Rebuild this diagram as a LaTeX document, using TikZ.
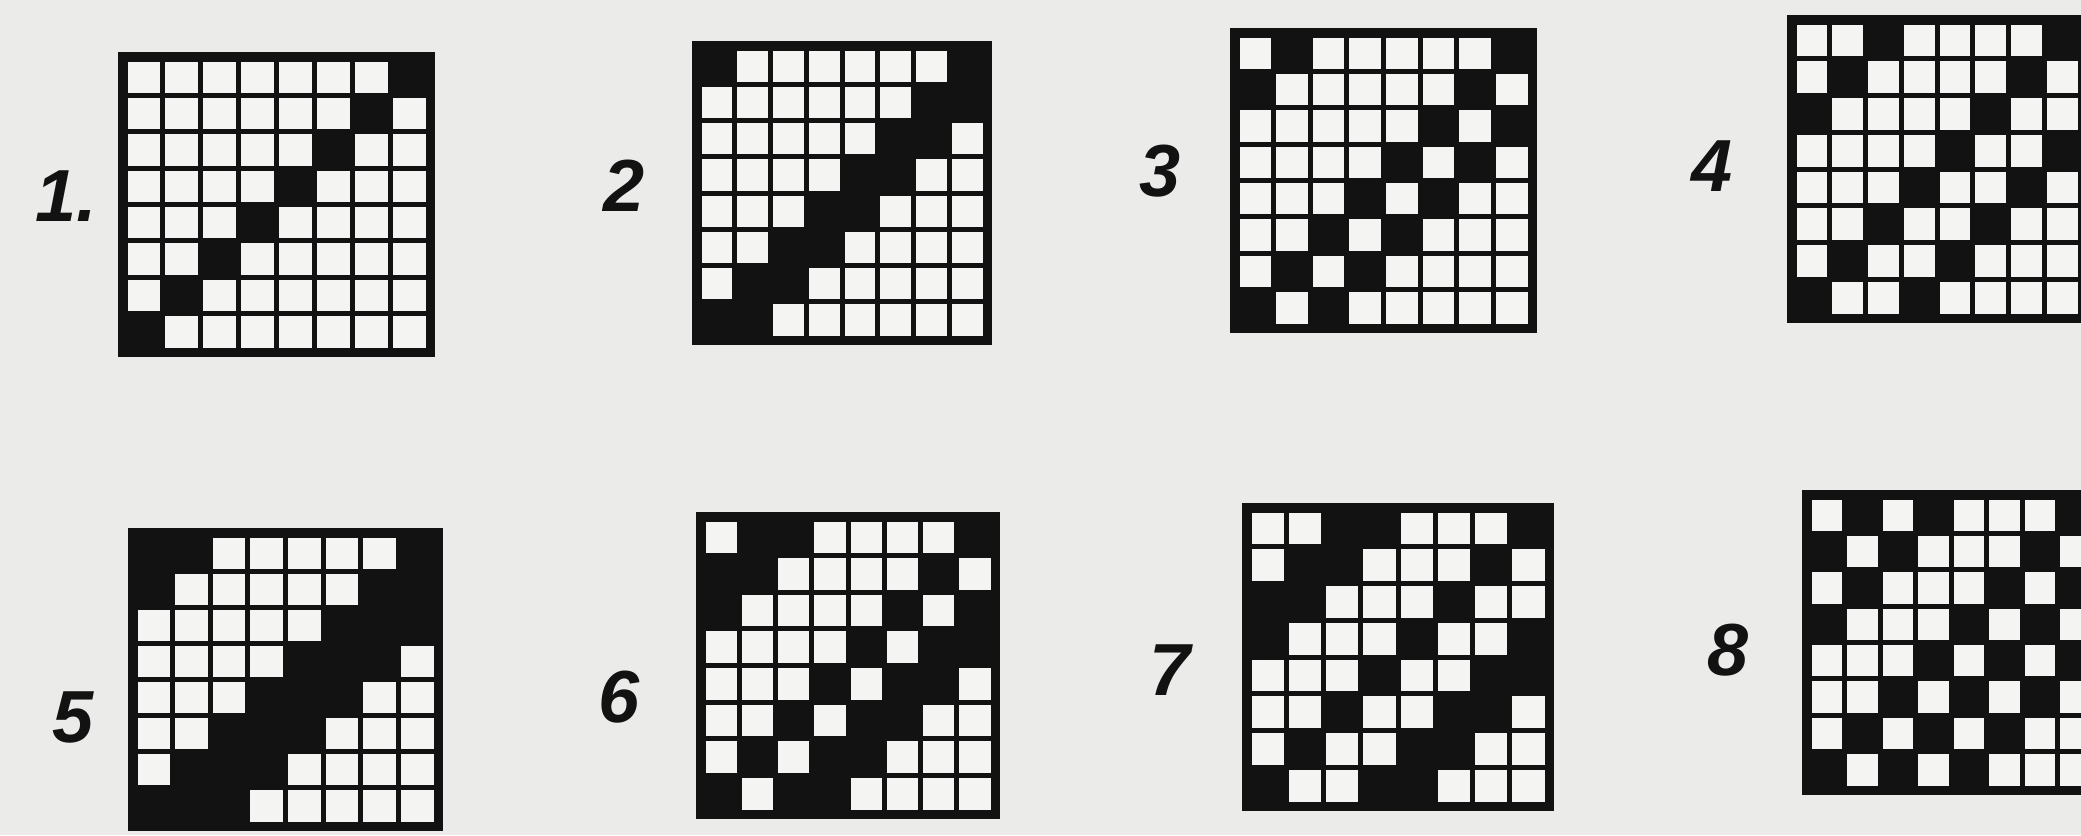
\documentclass[tikz,border=0pt]{standalone}
\usepackage{fontspec}
\setmainfont{Liberation Sans}
\usepackage{tikz}
\usetikzlibrary{positioning}
\definecolor{Paper}{HTML}{EBEBE9}
\definecolor{Cell}{HTML}{F4F4F2}
\definecolor{Ink}{HTML}{121212}

\begin{document}
\begin{tikzpicture}[x=0.1mm,y=-0.1mm,
    numlabel/.style={font=\fontsize{21}{21}\selectfont\bfseries\itshape,text=Ink,inner sep=0pt}
  ]
    \fill[Paper] (0,0) rectangle (2081,835);
    \useasboundingbox (0,0) rectangle (2081,835);
    \clip (0,0) rectangle (2081,835);
    % left / top / width / height / black shifts / label x / label y / label
    \foreach \gx/\gy/\gw/\gh/\sh/\lx/\ly/\txt [count=\n] in {
        118/52/317/305/{0}/66/196/1.,
        692/41/300/304/{0,1}/624/186/2,
        1230/28/307/305/{0,2}/1160/171/3,
        1787/15/300/308/{0,3}/1712/166/4,
        128/528/315/303/{0,1,2}/73/717/5,
        696/512/304/307/{0,2,3}/619/697/6,
        1242/503/312/308/{0,3,4}/1170/670/7,
        1802/490/298/305/{0,2,4}/1728/650/8}{
      \pgfmathsetmacro\pw{(\gw-14)/8}
      \pgfmathsetmacro\ph{(\gh-14)/8}
      \fill[Ink] (\gx,\gy) rectangle ++(\gw,\gh);
      \foreach \r in {1,...,8}{
        \foreach \c in {1,...,8}
          \fill[Cell] ({\gx+9.5+(\c-1)*\pw},{\gy+9.5+(\r-1)*\ph}) rectangle ++({\pw-5},{\ph-5});
        \foreach \k in \sh{
          \pgfmathtruncatemacro\col{mod(16-\r+\k,8)+1}
          \fill[Ink] ({\gx+7+(\col-1)*\pw},{\gy+7+(\r-1)*\ph}) rectangle ++(\pw,\ph);
        }
      }
      \node[numlabel] (num\n) at (\lx,\ly) {\txt};
    }
  \end{tikzpicture}
\end{document}
